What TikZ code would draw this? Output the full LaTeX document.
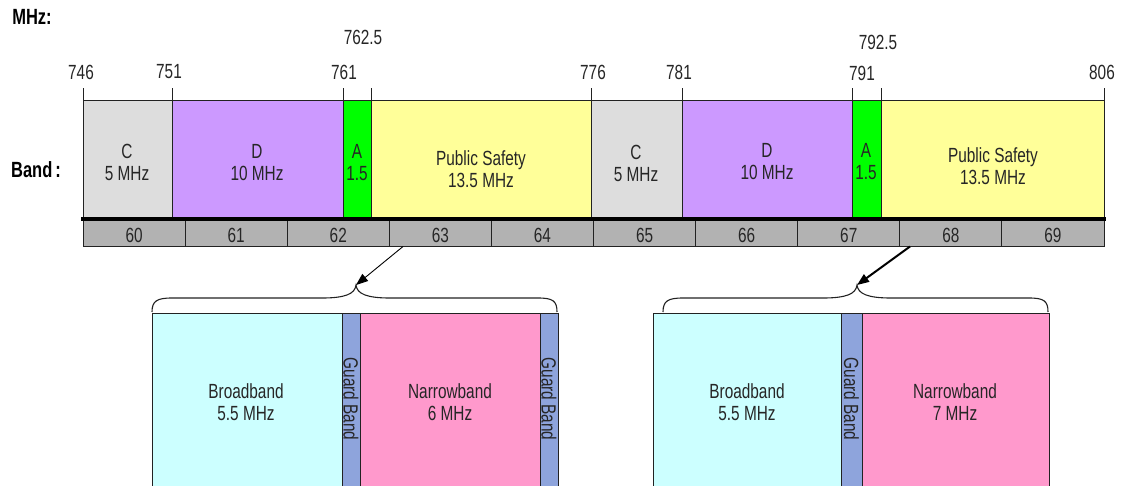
\documentclass[tikz,border=0pt]{standalone}
\usepackage{fontspec}
\setmainfont[FakeStretch=0.75]{Liberation Sans}
\usetikzlibrary{arrows.meta}
\definecolor{cgray}{HTML}{DDDDDD}
\definecolor{dpurp}{HTML}{CC99FF}
\definecolor{agreen}{HTML}{00FF00}
\definecolor{psyel}{HTML}{FFFF99}
\definecolor{chgray}{HTML}{B2B2B2}
\definecolor{bbcyan}{HTML}{CCFFFF}
\definecolor{gbblue}{HTML}{8EA4DC}
\definecolor{nbpink}{HTML}{FF99CC}
\definecolor{edge}{HTML}{222222}
\begin{document}
\begin{tikzpicture}[x=1pt,y=-1pt,
  blk/.style={draw=edge,line width=0.9pt},
  lbl/.style={font=\fontsize{20.5}{22}\selectfont,inner sep=0pt,align=center,text=black!85},
  head/.style={font=\fontsize{22}{24}\selectfont\bfseries,inner sep=0pt},
  tick/.style={draw=edge,line width=0.9pt},
  brace/.style={draw=edge,line width=1.1pt},
  pointer/.style={draw=black,-{Triangle[length=12pt,width=9pt]}}]
\useasboundingbox (0,0) rectangle (1121,485);
\clip (0,0) rectangle (1121,485);

% headings
\node[head] (mhz) at (32,17) {MHz:};
\node[head] (band) at (36,170) {Band\hspace{3pt}:};

% frequency ticks
\foreach \x in {83,172,343,371,591,682,852,881,1104}
  \draw[tick] (\x,88) -- (\x,100);
\node[lbl] (f746) at (81,72) {746};
\node[lbl] (f751) at (169,72) {751};
\node[lbl] (f761) at (344,72) {761};
\node[lbl] (f7625) at (363,37) {762.5};
\node[lbl] (f776) at (593,72) {776};
\node[lbl] (f781) at (679,72) {781};
\node[lbl] (f791) at (862,73) {791};
\node[lbl] (f7925) at (878,42) {792.5};
\node[lbl] (f806) at (1102,72) {806};

% band blocks
\foreach \a/\b/\c in {83/172/cgray,172/343/dpurp,343/371/agreen,371/591/psyel,
                      591/682/cgray,682/852/dpurp,852/881/agreen,881/1104/psyel}
  \draw[blk,fill=\c] (\a,100) rectangle (\b,218);

\node[lbl] (c1) at (127,162) {C\\5 MHz};
\node[lbl] (d1) at (257,163) {D\\10 MHz};
\node[lbl] (a1) at (357,163) {A\\1.5};
\node[lbl] (p1) at (481,169) {Public Safety\\13.5 MHz};
\node[lbl] (c2) at (636,163) {C\\5 MHz};
\node[lbl] (d2) at (767,162) {D\\10 MHz};
\node[lbl] (a2) at (866,162) {A\\1.5};
\node[lbl] (p2) at (993,166) {Public Safety\\13.5 MHz};

% channel strip
\foreach \i in {0,...,9}{
  \pgfmathsetmacro{\xa}{83+102.1*\i}
  \pgfmathsetmacro{\xb}{83+102.1*(\i+1)}
  \pgfmathtruncatemacro{\ch}{60+\i}
  \draw[blk,fill=chgray] (\xa,220) rectangle (\xb,246);
  \node[lbl] (ch\ch) at ({(\xa+\xb)/2},235.5) {\ch};
}
\draw[line width=3.2pt,black] (81,219) -- (1106,219);

% lower left group
\draw[blk,fill=bbcyan] (152,313) rectangle (342,495);
\draw[blk,fill=gbblue] (342,313) rectangle (360,495);
\draw[blk,fill=nbpink] (360,313) rectangle (540,495);
\draw[blk,fill=gbblue] (540,313) rectangle (558,495);
\node[lbl] (bb1) at (246,402) {Broadband\\5.5 MHz};
\node[lbl] (nb1) at (450,402) {Narrowband\\6 MHz};
\node[lbl,rotate=-90] (gb1) at (351,399) {Guard Band};
\node[lbl,rotate=-90] (gb2) at (549,399) {Guard Band};

% lower right group
\draw[blk,fill=bbcyan] (653,313) rectangle (841,495);
\draw[blk,fill=gbblue] (841,313) rectangle (862,495);
\draw[blk,fill=nbpink] (862,313) rectangle (1049,495);
\node[lbl] (bb2) at (747,402) {Broadband\\5.5 MHz};
\node[lbl] (nb2) at (955,402) {Narrowband\\7 MHz};
\node[lbl,rotate=-90] (gb3) at (851.5,399) {Guard Band};

% braces
\coordinate (tipL) at (356,285);
\coordinate (tipR) at (857,285);
\draw[brace] (152,312) .. controls (152,301) and (157,298) .. (172,298) -- (322,298)
  .. controls (345,298) and (355,294) .. (tipL)
  .. controls (357,294) and (367,298) .. (390,298) -- (538,298)
  .. controls (553,298) and (557,301) .. (557,312);
\draw[brace] (663,312) .. controls (663,301) and (668,298) .. (683,298) -- (823,298)
  .. controls (846,298) and (856,294) .. (tipR)
  .. controls (858,294) and (868,298) .. (891,298) -- (1029,298)
  .. controls (1044,298) and (1048,301) .. (1048,312);

% pointers
\coordinate (srcL) at (403,246.5);
\coordinate (srcR) at (910,246.5);
\draw[pointer,line width=0.9pt] (srcL) -- (tipL);
\draw[pointer,line width=2pt] (srcR) -- (tipR);
\end{tikzpicture}
\end{document}
